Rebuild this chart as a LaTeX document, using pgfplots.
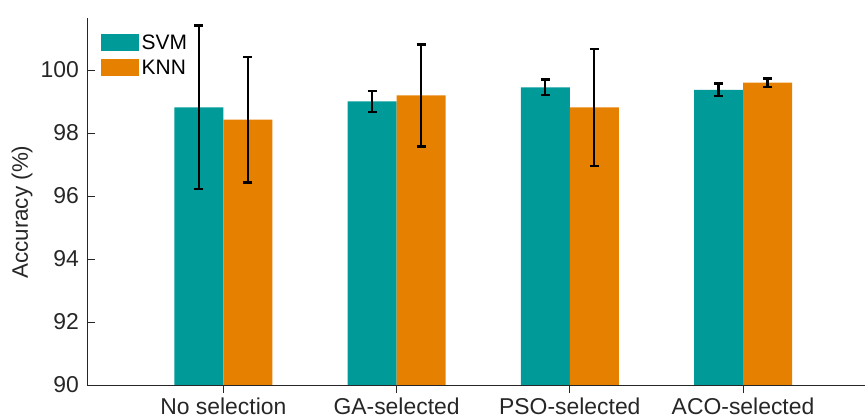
\documentclass[border=0pt]{standalone}
\usepackage{pgfplots}
\usepackage{pgfplotstable}
\pgfplotsset{compat=1.18}
\usepackage{fontspec}
\setmainfont{Liberation Sans}
\definecolor{svm}{RGB}{0,154,153}
\definecolor{knn}{RGB}{230,128,0}
\definecolor{axgray}{RGB}{38,38,38}
\pgfplotstableread{
x  svm   svmerr knn   knnerr
1  98.81 2.60   98.42 1.99
2  99.00 0.33   99.19 1.62
3  99.45 0.25   98.81 1.85
4  99.37 0.20   99.60 0.13
}\datatable
\begin{document}
\begin{tikzpicture}
\begin{axis}[
  at={(0,0)}, anchor=south west,
  scale only axis, width=778bp, height=367bp,
  xmin=0.213, xmax=4.704, ymin=90, ymax=101.65,
  axis x line*=bottom, axis y line*=left,
  axis line style={-, axgray, line width=0.8bp},
  xtick={1,2,3,4},
  xticklabels={No selection, GA-selected, PSO-selected, ACO-selected},
  ytick={90,92,94,96,98,100},
  tick align=inside, major tick length=8bp,
  tick style={axgray, line width=0.8bp},
  /pgf/number format/assume math mode=true,
  ticklabel style={font=\fontsize{23}{27}\selectfont, text=axgray},
  yticklabel style={inner sep=0pt, xshift=-8bp},
  xticklabel style={inner sep=0pt, anchor=north, yshift=-5bp},
  ylabel={Accuracy (\%)},
  ylabel style={at={(axis description cs:-0.097,0.471)}, anchor=north, inner sep=0pt,
    font=\fontsize{22.5}{26}\selectfont, text=axgray},
  axis on top,
  ybar, bar width=0.283,
  legend style={at={(axis description cs:0.018,0.958)}, anchor=north west,
    draw=none, fill=none, inner sep=0pt, row sep=7.6bp,
    font=\fontsize{21}{25}\selectfont, text=black,
    nodes={inner sep=0pt},
    /tikz/every odd column/.append style={column sep=2.5bp}},
  legend cell align=left,
  legend image code/.code={\fill[#1, draw=none] (0bp,-8bp) rectangle (38bp,9.4bp);},
  error bars/error bar style={line width=2.2bp, black},
  error bars/error mark options={rotate=90, mark size=4.5bp, line width=2.2bp, black},
]
\addplot[fill=svm, draw=none, bar shift=-0.1415,
  error bars/.cd, y dir=both, y explicit]
  table[x=x, y=svm, y error=svmerr]{\datatable};
\addplot[fill=knn, draw=none, bar shift=0.1415,
  error bars/.cd, y dir=both, y explicit]
  table[x=x, y=knn, y error=knnerr]{\datatable};
\legend{SVM, KNN}
\end{axis}
\pgfresetboundingbox
\path[use as bounding box] (-87bp,-32bp) rectangle (778bp,385bp);
\end{tikzpicture}
\end{document}
